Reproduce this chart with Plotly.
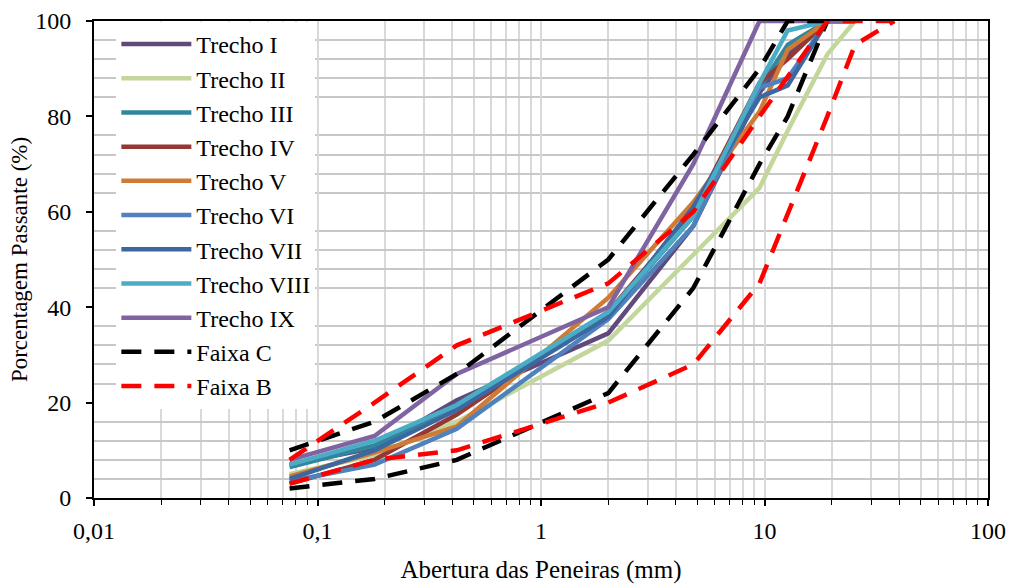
import plotly.graph_objects as go

# Sieve openings (mm)
sieves = [0.075, 0.18, 0.42, 2.0, 4.8, 9.5, 12.7, 19.1, 25.4]

trecho_names = ["Trecho I", "Trecho II", "Trecho III", "Trecho IV", "Trecho V",
                "Trecho VI", "Trecho VII", "Trecho VIII", "Trecho IX"]
trecho_I = [7, 10.5, 20.5, 34.5, 57, 85, 93, 100, 100]
trecho_II = [5, 9, 16, 33, 51, 65, 77, 93, 100]
trecho_III = [6.5, 11, 19.5, 38.5, 59, 86, 95, 100, 100]
trecho_IV = [3, 8, 17.5, 39, 60, 87, 92, 100, 100]
trecho_V = [4.5, 9.5, 15, 42, 62, 81, 94, 100, 100]
trecho_VI = [3.5, 7, 14.5, 37.5, 57, 86, 88, 100, 100]
trecho_VII = [4, 10, 18.5, 38, 61, 84, 86.5, 100, 100]
trecho_VIII = [7, 12, 19.5, 39, 59, 87, 98, 100, 100]
trecho_IX = [8, 13, 26, 40, 70, 100, 100, 100, 100]
trecho_values = [trecho_I, trecho_II, trecho_III, trecho_IV, trecho_V,
                 trecho_VI, trecho_VII, trecho_VIII, trecho_IX]
trecho_colors = ["#604A7B", "#C3D69B", "#31859C", "#953735", "#CD7B36",
                 "#4F81BD", "#3B68A0", "#4BACC6", "#8064A2"]

# Faixa C (DNIT) limits
faixaC_sieves = [0.075, 0.18, 0.42, 2.0, 4.8, 9.5, 12.7, 19.1]
faixaC_sup = [10, 16, 26, 50, 72, 90, 100, 100]
faixaC_inf = [2, 4, 8, 22, 44, 70, 80, 100]
# Faixa B (DNIT) limits
faixaB_sieves = [0.075, 0.18, 0.42, 2.0, 4.8, 9.5, 19.1, 25.4, 38.1]
faixaB_sup = [8, 20, 32, 45, 60, 80, 100, 100, 100]
faixaB_inf = [3, 8, 10, 20, 28, 45, 80, 95, 100]

x_tickvals = [0.01, 0.1, 1, 10, 100]
x_ticktext = ["0,01", "0,1", "1", "10", "100"]

FONT = "Liberation Serif"
fig = go.Figure()

for name, vals, col in zip(trecho_names, trecho_values, trecho_colors):
    fig.add_trace(go.Scatter(x=sieves, y=vals, name=name, mode="lines",
                             line=dict(color=col, width=4.5)))

dash = "20px,13px"
fig.add_trace(go.Scatter(x=faixaC_sieves, y=faixaC_sup, name="Faixa C", mode="lines",
                         line=dict(color="black", width=4.5, dash=dash)))
fig.add_trace(go.Scatter(x=faixaC_sieves, y=faixaC_inf, name="Faixa C", mode="lines",
                         line=dict(color="black", width=4.5, dash=dash), showlegend=False))
fig.add_trace(go.Scatter(x=faixaB_sieves, y=faixaB_sup, name="Faixa B", mode="lines",
                         line=dict(color="red", width=4.5, dash=dash)))
fig.add_trace(go.Scatter(x=faixaB_sieves, y=faixaB_inf, name="Faixa B", mode="lines",
                         line=dict(color="red", width=4.5, dash=dash), showlegend=False))

fig.update_layout(
    width=1014, height=586,
    margin=dict(l=94, r=26, t=21, b=88, autoexpand=False),
    paper_bgcolor="white", plot_bgcolor="white",
    font=dict(family=FONT, size=24, color="black"),
    showlegend=True,
    legend=dict(x=0.025, y=0.998, xanchor="left", yanchor="top",
                bgcolor="white", borderwidth=0,
                font=dict(family=FONT, size=24, color="black"),
                itemwidth=70, traceorder="normal"),
    xaxis=dict(type="log", range=[-2, 2], automargin=True,
               tickmode="array", tickvals=x_tickvals, ticktext=x_ticktext,
               ticks="outside", ticklen=6, tickwidth=1.5, tickcolor="black",
               ticklabelstandoff=4,
               showline=True, linecolor="black", linewidth=2, mirror=True,
               showgrid=True, gridcolor="#D9D9D9", gridwidth=1.5,
               minor=dict(dtick="D1", ticks="outside", ticklen=5, tickwidth=1.3,
                          tickcolor="black", showgrid=True, gridcolor="#D9D9D9",
                          gridwidth=1.5),
               tickfont=dict(family=FONT, size=24),
               title=dict(text="Abertura das Peneiras (mm)", font=dict(family=FONT, size=25),
                          standoff=18),
               zeroline=False),
    yaxis=dict(range=[0, 100], dtick=20, tick0=0, automargin=True,
               ticks="outside", ticklen=6, tickwidth=1.5, tickcolor="black",
               ticklabelstandoff=10,
               showline=True, linecolor="black", linewidth=2, mirror=True,
               showgrid=False,
               minor=dict(dtick=4, showgrid=True, gridcolor="#C8C8C8", gridwidth=1.5),
               tickfont=dict(family=FONT, size=24),
               title=dict(text="Porcentagem Passante (%)", font=dict(family=FONT, size=23),
                          standoff=1),
               zeroline=False),
)

fig.write_html("out.html")
